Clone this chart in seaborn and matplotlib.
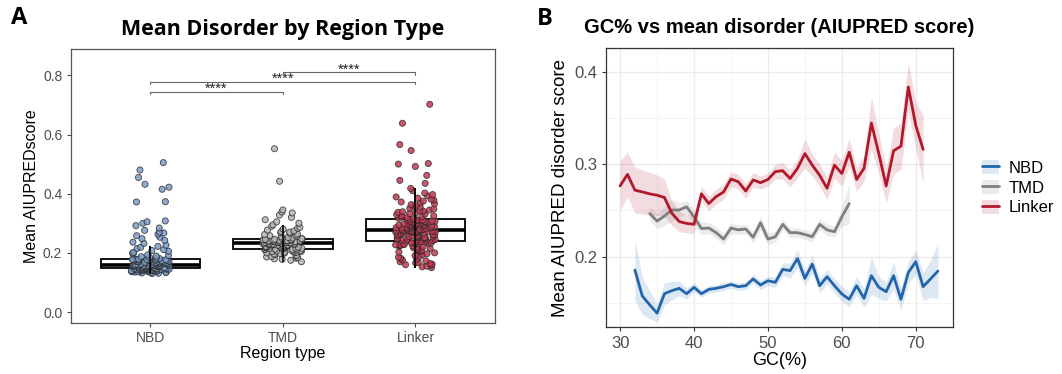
import numpy as np
import pandas as pd
import matplotlib
matplotlib.use("Agg")
import matplotlib.pyplot as plt
import seaborn as sns
from matplotlib.patches import Patch
from matplotlib.lines import Line2D

sns.set_style("white")
plt.rcParams['font.family'] = ['Liberation Sans', 'DejaVu Sans']
plt.rcParams['text.color'] = 'black'
plt.rcParams['axes.labelcolor'] = 'black'

# ---------------- Panel A data ----------------
regions = ["NBD", "TMD", "Linker"]

nbd_scores = [
    0.130, 0.131, 0.132, 0.133, 0.134, 0.134, 0.135, 0.136, 0.136, 0.137, 0.137, 0.138, 0.138, 0.139,
    0.139, 0.140, 0.140, 0.141, 0.141, 0.142, 0.142, 0.142, 0.143, 0.143, 0.143, 0.144, 0.144, 0.144,
    0.145, 0.145, 0.145, 0.146, 0.146, 0.146, 0.147, 0.147, 0.147, 0.148, 0.148, 0.148,
    0.148, 0.149, 0.149, 0.149, 0.150, 0.150, 0.150, 0.151, 0.151, 0.151, 0.152, 0.152, 0.152, 0.153,
    0.153, 0.153, 0.154, 0.154, 0.154, 0.155, 0.155, 0.155, 0.155, 0.156, 0.156, 0.156, 0.156, 0.157,
    0.157, 0.157, 0.157, 0.158, 0.158, 0.158, 0.158, 0.158, 0.159, 0.159, 0.159, 0.159,
    0.160, 0.160, 0.161, 0.161, 0.162, 0.162, 0.163, 0.163, 0.164, 0.164, 0.165, 0.165, 0.166, 0.166,
    0.167, 0.167, 0.168, 0.168, 0.169, 0.169, 0.170, 0.170, 0.171, 0.171, 0.172, 0.172, 0.173, 0.173,
    0.174, 0.174, 0.175, 0.175, 0.176, 0.176, 0.177, 0.177, 0.177, 0.178, 0.178, 0.178,
    0.179, 0.181, 0.183, 0.185, 0.187, 0.189, 0.191, 0.193, 0.196, 0.199, 0.202, 0.205, 0.208, 0.211,
    0.215, 0.219, 0.222, 0.226, 0.232, 0.236, 0.242, 0.248, 0.253, 0.258, 0.263, 0.267, 0.270, 0.276,
    0.284, 0.292, 0.300, 0.305, 0.308, 0.372, 0.373, 0.415, 0.422, 0.432, 0.455, 0.480, 0.505,
]
tmd_scores = [
    0.170, 0.175, 0.178, 0.180, 0.182, 0.184, 0.186, 0.188, 0.190, 0.192, 0.194, 0.196, 0.198, 0.199,
    0.200, 0.201, 0.202, 0.203, 0.204, 0.205, 0.206, 0.207, 0.208, 0.209, 0.210, 0.211, 0.212, 0.212,
    0.213, 0.214,
    0.214, 0.215, 0.215, 0.216, 0.217, 0.217, 0.218, 0.219, 0.219, 0.220, 0.221, 0.221, 0.222, 0.223,
    0.223, 0.224, 0.225, 0.225, 0.226, 0.227, 0.227, 0.228, 0.228, 0.229, 0.229, 0.230, 0.230, 0.231,
    0.231, 0.232,
    0.232, 0.233, 0.233, 0.234, 0.234, 0.235, 0.235, 0.236, 0.236, 0.237, 0.237, 0.238, 0.238, 0.239,
    0.239, 0.240, 0.240, 0.241, 0.241, 0.242, 0.242, 0.243, 0.243, 0.244, 0.244, 0.245, 0.246, 0.246,
    0.247, 0.248,
    0.249, 0.250, 0.252, 0.254, 0.256, 0.258, 0.260, 0.262, 0.264, 0.266, 0.268, 0.270, 0.272, 0.274,
    0.277, 0.280, 0.283, 0.286, 0.290, 0.295, 0.300, 0.305, 0.312, 0.320, 0.328, 0.335, 0.338, 0.345,
    0.442, 0.552,
]
linker_scores = [
    0.150, 0.153, 0.155, 0.158, 0.160, 0.162, 0.164, 0.166, 0.168, 0.170, 0.173, 0.176, 0.179, 0.182,
    0.185, 0.188, 0.191, 0.194, 0.197, 0.200, 0.203, 0.205, 0.207, 0.209, 0.211, 0.213, 0.215, 0.217,
    0.219, 0.221, 0.223, 0.224, 0.225, 0.226, 0.227, 0.228, 0.229, 0.230, 0.231, 0.232, 0.233, 0.234,
    0.235, 0.236, 0.238,
    0.239, 0.240, 0.241, 0.242, 0.243, 0.244, 0.245, 0.246, 0.247, 0.248, 0.249, 0.250, 0.251, 0.252,
    0.253, 0.254, 0.255, 0.256, 0.257, 0.258, 0.259, 0.260, 0.261, 0.262, 0.263, 0.264, 0.265, 0.266,
    0.267, 0.268, 0.269, 0.270, 0.270, 0.271, 0.271, 0.272, 0.272, 0.273, 0.273, 0.274, 0.274, 0.275,
    0.275, 0.276, 0.276,
    0.277, 0.278, 0.278, 0.279, 0.280, 0.281, 0.281, 0.282, 0.283, 0.284, 0.285, 0.285, 0.286, 0.287,
    0.288, 0.289, 0.289, 0.290, 0.291, 0.292, 0.293, 0.293, 0.294, 0.295, 0.296, 0.297, 0.297, 0.298,
    0.299, 0.300, 0.301, 0.302, 0.302, 0.303, 0.304, 0.305, 0.306, 0.306, 0.307, 0.308, 0.309, 0.310,
    0.310, 0.311, 0.312,
    0.313, 0.315, 0.317, 0.319, 0.321, 0.323, 0.325, 0.327, 0.329, 0.331, 0.333, 0.335, 0.337, 0.339,
    0.341, 0.343, 0.345, 0.348, 0.351, 0.354, 0.357, 0.360, 0.363, 0.366, 0.369, 0.372, 0.375, 0.378,
    0.381, 0.385, 0.389, 0.393, 0.397, 0.402, 0.410, 0.418, 0.435, 0.445, 0.462, 0.492, 0.500, 0.502,
    0.546, 0.566, 0.638, 0.702,
]
comparisons = [("NBD", "TMD", 0.745), ("NBD", "Linker", 0.779), ("TMD", "Linker", 0.810)]
sig_label = "****"

# ---------------- Panel B data ----------------
nbd_gc = list(range(32, 74))
nbd_mean = [0.1856, 0.1576, 0.148, 0.139, 0.160, 0.1633, 0.1658, 0.160, 0.1669, 0.160,
            0.1647, 0.1658, 0.1676, 0.170, 0.1676, 0.1687, 0.176, 0.1694, 0.174, 0.1723,
            0.1863, 0.185, 0.198, 0.1766, 0.192, 0.1687, 0.1784, 0.1687, 0.1597, 0.154,
            0.1687, 0.155, 0.1795, 0.1669, 0.1622, 0.1795, 0.154, 0.183, 0.1946, 0.1676,
            0.176, 0.1845]
nbd_hw = [0.033, 0.020, 0.015, 0.010, 0.012, 0.010, 0.008, 0.006, 0.005, 0.004,
          0.004, 0.004, 0.004, 0.004, 0.004, 0.004, 0.005, 0.005, 0.005, 0.006,
          0.007, 0.008, 0.010, 0.008, 0.010, 0.008, 0.008, 0.008, 0.008, 0.008,
          0.010, 0.010, 0.020, 0.012, 0.010, 0.015, 0.012, 0.012, 0.013, 0.015,
          0.020, 0.030]

tmd_gc = list(range(34, 62))
tmd_mean = [0.2468, 0.2385, 0.244, 0.2505, 0.2505, 0.254, 0.243, 0.2305, 0.231, 0.226,
            0.219, 0.231, 0.229, 0.230, 0.221, 0.2367, 0.219, 0.2216, 0.235, 0.226,
            0.226, 0.224, 0.2216, 0.235, 0.229, 0.227, 0.243, 0.2575]
tmd_hw = [0.008, 0.008, 0.010, 0.012, 0.008, 0.007, 0.008, 0.007, 0.006, 0.006,
          0.006, 0.006, 0.005, 0.005, 0.006, 0.008, 0.006, 0.006, 0.006, 0.005,
          0.005, 0.005, 0.006, 0.006, 0.006, 0.006, 0.010, 0.022]

linker_gc = list(range(30, 72))
linker_mean = [0.2766, 0.289, 0.272, 0.270, 0.268, 0.2665, 0.264, 0.247, 0.238, 0.236,
               0.235, 0.268, 0.2575, 0.265, 0.270, 0.284, 0.281, 0.271, 0.283, 0.280,
               0.2835, 0.292, 0.293, 0.2845, 0.2955, 0.3115, 0.299, 0.288, 0.274, 0.299,
               0.290, 0.313, 0.2835, 0.2955, 0.3445, 0.3115, 0.2765, 0.3145, 0.3195, 0.3835,
               0.342, 0.316]
linker_hw = [0.027, 0.024, 0.025, 0.024, 0.023, 0.022, 0.020, 0.013, 0.011, 0.010,
             0.010, 0.008, 0.008, 0.008, 0.008, 0.008, 0.008, 0.008, 0.008, 0.007,
             0.007, 0.008, 0.009, 0.009, 0.010, 0.016, 0.012, 0.012, 0.012, 0.014,
             0.014, 0.015, 0.013, 0.014, 0.028, 0.022, 0.019, 0.025, 0.025, 0.027,
             0.025, 0.037]

point_colors = {"NBD": "#7B9CC9", "TMD": "#B5B5B5", "Linker": "#C43A52"}
line_colors = {"NBD": "#2166AC", "TMD": "#7F7F7F", "Linker": "#B2182B"}

# ---------------- Figure ----------------
W, H = 1062, 374
fig = plt.figure(figsize=(W / 100, H / 100), dpi=100)
fig.patch.set_facecolor("white")

def frac(l, t, r, b):
    return [l / W, 1 - b / H, (r - l) / W, (b - t) / H]

# ======== Panel A ========
axA = fig.add_axes(frac(70.7, 49.3, 495, 322.7))
dfA = pd.DataFrame({
    "region": ["NBD"] * len(nbd_scores) + ["TMD"] * len(tmd_scores) + ["Linker"] * len(linker_scores),
    "score": nbd_scores + tmd_scores + linker_scores,
})
sns.boxplot(data=dfA, x="region", y="score", order=regions, ax=axA, width=0.75,
            color="white", showfliers=False, whis=1.5, linewidth=1.3,
            boxprops=dict(facecolor="white", edgecolor="black", zorder=1),
            medianprops=dict(color="black", linewidth=2.6, zorder=1.5),
            whiskerprops=dict(color="black", linewidth=1.2),
            capprops=dict(linewidth=0))
np.random.seed(3)
sns.stripplot(data=dfA, x="region", y="score", order=regions, hue="region",
              palette=point_colors, jitter=0.15, size=4.4, edgecolor="#2a2a2a",
              linewidth=0.6, alpha=0.85, ax=axA, legend=False, zorder=3)
# whisker line through the group, drawn above the points
for i, r in enumerate(regions):
    vals = np.array(dfA.loc[dfA.region == r, "score"])
    q1, q3 = np.percentile(vals, [25, 75])
    iqr = q3 - q1
    lo = vals[vals >= q1 - 1.5 * iqr].min()
    hi = vals[vals <= q3 + 1.5 * iqr].max()
    axA.vlines(i, lo, hi, color="black", linewidth=1.1, zorder=4)

# significance brackets
pos = {r: i for i, r in enumerate(regions)}
for a, b, yv in comparisons:
    x1, x2 = pos[a], pos[b]
    axA.plot([x1, x1, x2, x2], [yv - 0.008, yv, yv, yv - 0.008], color="#666666",
             linewidth=0.8, zorder=5)
    axA.text((x1 + x2) / 2, yv - 0.014, sig_label, ha="center", va="bottom",
             fontsize=10.5, color="#222222")

axA.set_xlim(-0.6, 2.6)
axA.set_ylim(-0.036, 0.888)
axA.set_yticks([0.0, 0.2, 0.4, 0.6, 0.8])
axA.set_yticklabels(["0.0", "0.2", "0.4", "0.6", "0.8"])
axA.tick_params(axis="both", labelsize=10, colors="#4D4D4D", length=3, width=0.8,
                labelcolor="#4D4D4D", direction="out", left=True, bottom=True, pad=3)
for s in axA.spines.values():
    s.set_color("#555555")
    s.set_linewidth(0.9)
axA.set_xlabel("Region type", fontsize=11.5, color="black", labelpad=1)
axA.set_ylabel("Mean AIUPREDscore", fontsize=11.5, color="black", labelpad=3)
axA.set_title("Mean Disorder by Region Type", fontsize=15.5, fontweight="bold", pad=10,
              family=["Open Sans", "DejaVu Sans"], color="black")
fig.text(11 / W, 1 - 18 / H, "A", fontsize=17, fontweight="bold", ha="left", va="center",
         family=["Open Sans", "DejaVu Sans"], color="black")

# ======== Panel B ========
axB = fig.add_axes(frac(605.7, 48.3, 952.7, 327.3))
dfB = pd.DataFrame({
    "gc": nbd_gc + tmd_gc + linker_gc,
    "mean": nbd_mean + tmd_mean + linker_mean,
    "hw": nbd_hw + tmd_hw + linker_hw,
    "region": ["NBD"] * len(nbd_gc) + ["TMD"] * len(tmd_gc) + ["Linker"] * len(linker_gc),
})
for r in regions:
    d = dfB[dfB.region == r]
    axB.fill_between(d["gc"], d["mean"] - d["hw"], d["mean"] + d["hw"],
                     color=line_colors[r], alpha=0.15, linewidth=0, zorder=2)
sns.lineplot(data=dfB, x="gc", y="mean", hue="region", hue_order=regions,
             palette=line_colors, linewidth=2.0, ax=axB, legend=False, zorder=3,
             errorbar=None)
axB.set_xlim(28.05, 75.0)
axB.set_ylim(0.1237, 0.4253)
axB.set_xticks([30, 40, 50, 60, 70])
axB.set_xticks([35, 45, 55, 65], minor=True)
axB.set_yticks([0.2, 0.3, 0.4])
axB.set_yticks([0.15, 0.25, 0.35], minor=True)
axB.set_yticklabels(["0.2", "0.3", "0.4"])
axB.grid(True, which="major", color="#EBEBEB", linewidth=1.0, zorder=0)
axB.grid(True, which="minor", color="#F2F2F2", linewidth=0.6, zorder=0)
axB.set_axisbelow(True)
axB.tick_params(axis="both", which="major", labelsize=12, colors="#333333",
                labelcolor="#4D4D4D", length=3, width=0.8, left=True, bottom=True, pad=3)
axB.tick_params(axis="both", which="minor", length=0)
for s in axB.spines.values():
    s.set_color("#333333")
    s.set_linewidth(0.9)
axB.set_xlabel("GC(%)", fontsize=13, color="black", labelpad=1)
axB.set_ylabel("Mean AIUPRED disorder score", fontsize=13.5, color="black", labelpad=4)
axB.set_title("GC% vs mean disorder (AIUPRED score)", fontsize=14.5, fontweight="bold", pad=11,
              color="black")
fig.text(537 / W, 1 - 19 / H, "B", fontsize=17, fontweight="bold", ha="left", va="center",
         family=["Open Sans", "DejaVu Sans"], color="black")

handles = [(Patch(facecolor=line_colors[r], alpha=0.15, edgecolor="none"),
            Line2D([], [], color=line_colors[r], linewidth=2.0)) for r in regions]
leg = axB.legend(handles, regions, loc="center left", bbox_to_anchor=(1.084, 0.5),
                 frameon=False, fontsize=12, handlelength=1.0, handleheight=0.9,
                 labelspacing=0.25, handletextpad=0.6, borderaxespad=0, borderpad=0)
for t in leg.get_texts():
    t.set_color("black")

fig.savefig("out.png", dpi=100, facecolor="white")
